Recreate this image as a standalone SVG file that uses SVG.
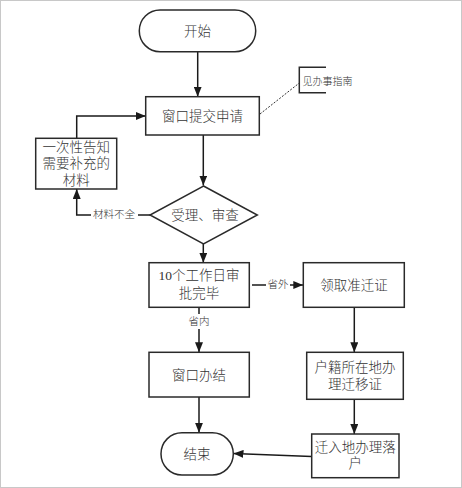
<svg xmlns="http://www.w3.org/2000/svg" width="462" height="488" viewBox="0 0 462 488">
<defs>
<marker id="ah" viewBox="0 0 10 8" refX="10" refY="4" markerWidth="10" markerHeight="8" markerUnits="userSpaceOnUse" orient="auto">
<path d="M0,0 L10,4 L0,8 Z" fill="#1a1a1a"/>
</marker>
</defs>
<style>
.shape{fill:#fff;stroke:#2a2a2a;stroke-width:1.5}
.t{font-family:"Liberation Serif","Noto Sans CJK SC",serif;font-size:13.5px;font-weight:300;fill:#333;text-anchor:middle;dominant-baseline:central}
.s{font-family:"Liberation Serif","Noto Sans CJK SC",serif;font-size:10.5px;font-weight:300;fill:#333;text-anchor:middle;dominant-baseline:central}
.c{fill:none;stroke:#1a1a1a;stroke-width:1.5;marker-end:url(#ah)}
.l{fill:none;stroke:#1a1a1a;stroke-width:1.5}
</style>
<rect x="0.5" y="0.5" width="461" height="487" fill="#fff" stroke="#c8c8c8" stroke-width="1"/>
<g id="connectors">
<path class="c" d="M197.7,52 V96.7"/>
<path class="c" d="M203.3,135 V185.5"/>
<path class="l" d="M150,215 H138"/>
<path class="c" d="M91,215 H76.7 V189"/>
<path class="c" d="M76.7,138.3 V116 H145.7"/>
<path class="c" d="M203.3,244 V262.7"/>
<path class="l" d="M252,285 H266"/>
<path class="c" d="M290,285 H303.3"/>
<path class="l" d="M199,307.3 V314"/>
<path class="c" d="M199,329 V352.3"/>
<path class="c" d="M199,397 V432.7"/>
<path class="c" d="M354.3,307.3 V352.3"/>
<path class="c" d="M354.3,399.3 V434"/>
<path class="c" d="M311.7,456.5 L233.5,453.5"/>
<path d="M260,114 L299.3,83" fill="none" stroke="#333" stroke-width="1" stroke-dasharray="2,1.5"/>
<text class="s" x="114" y="214">材料不全</text>
<text class="s" x="278" y="284">省外</text>
<text class="s" x="199" y="321.5">省内</text>
</g>
<g id="start">
<rect class="shape" x="139.3" y="10" width="116.4" height="41.7" rx="20.8"/>
<text class="t" x="197.5" y="31">开始</text>
</g>
<g id="submit">
<rect class="shape" x="145.7" y="96.7" width="113.6" height="38.3"/>
<text class="t" x="202.5" y="116">窗口提交申请</text>
</g>
<g id="note">
<path d="M326,67.3 H299.3 V92.7 H326" fill="none" stroke="#2a2a2a" stroke-width="1.5"/>
<text x="302.5" y="81.5" style="font-family:'Liberation Serif','Noto Sans CJK SC',serif;font-size:10px;font-weight:300;fill:#333;dominant-baseline:central">见办事指南</text>
</g>
<g id="supplement">
<rect class="shape" x="35.7" y="138.3" width="81" height="50.7"/>
<text class="t" x="76.2" y="147">一次性告知</text>
<text class="t" x="76.2" y="163.5">需要补充的</text>
<text class="t" x="76.2" y="180">材料</text>
</g>
<g id="review">
<path class="shape" d="M203.5,186 L257.3,215 L203.5,244 L150,215 Z"/>
<text class="t" x="205" y="215">受理、审查</text>
</g>
<g id="approve">
<rect class="shape" x="149" y="262.7" width="100.3" height="44.6"/>
<text class="t" x="199" y="275.5">10个工作日审</text>
<text class="t" x="199" y="293.5">批完毕</text>
</g>
<g id="permit">
<rect class="shape" x="303.3" y="262.7" width="101" height="44.6"/>
<text class="t" x="354" y="285">领取准迁证</text>
</g>
<g id="window-done">
<rect class="shape" x="149" y="352.3" width="100.3" height="44.7"/>
<text class="t" x="199" y="375">窗口办结</text>
</g>
<g id="migrate">
<rect class="shape" x="306.7" y="352.3" width="96.6" height="47"/>
<text class="t" x="355" y="367.5">户籍所在地办</text>
<text class="t" x="355" y="384">理迁移证</text>
</g>
<g id="settle">
<rect class="shape" x="311.7" y="434" width="87.3" height="43.7"/>
<text class="t" x="355.3" y="447.5">迁入地办理落</text>
<text class="t" x="355.3" y="463">户</text>
</g>
<g id="end">
<rect class="shape" x="161" y="432.7" width="72.3" height="42.3" rx="21"/>
<text class="t" x="197" y="454">结束</text>
</g>
</svg>
